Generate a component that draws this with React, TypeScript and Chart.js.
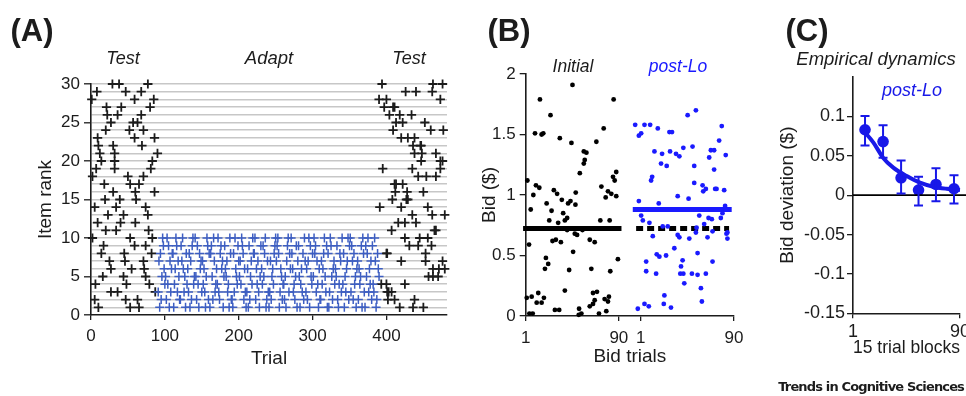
import React, { useEffect, useRef } from "react";
import { Chart, registerables } from "chart.js";

Chart.register(...registerables);

const FONT = "'Liberation Sans', Arial, Helvetica, sans-serif";
const INK = "#1c1c1c";
const BLUE_A = "#3d5ec2";
const BLUE_B = "#1a1aff";
const BLUE_C = "#1818e8";
const GRID_GRAY = "#c7c7c7";
const NONE = "rgba(0,0,0,0)";

// ---------- Panel A: item rank per trial ----------
const testRanks = [30, 29, 28, 27, 26, 25, 24, 23, 22, 21, 20, 19, 18, 17, 16, 15, 14, 13, 12, 11, 10, 9, 8, 7, 6, 5, 4, 3, 2, 1];
const testBlock1Trials = [
  [29, 38, 77], [8, 47, 68], [1, 59, 85], [21, 41, 80], [22, 36, 68],
  [27, 57, 63], [20, 52, 71], [9, 59, 86], [10, 30, 69], [12, 32, 90],
  [14, 32, 83], [7, 32, 81], [2, 50, 71], [18, 53, 65], [30, 60, 86],
  [19, 39, 61], [5, 34, 74], [23, 44, 77], [9, 40, 60], [20, 34, 78],
  [2, 53, 83], [17, 59, 74], [14, 45, 82], [25, 46, 71], [27, 55, 72],
  [16, 44, 74], [6, 48, 79], [27, 36, 87], [5, 47, 63], [10, 53, 65],
];
const testBlock2Trials = [
  [394, 463, 476], [426, 440, 462], [390, 400, 473], [397, 409, 411], [404, 418, 434],
  [413, 422, 452], [409, 460, 477], [420, 429, 438], [436, 446, 447], [438, 448, 467],
  [447, 473, 476], [395, 435, 473], [443, 454, 467], [411, 413, 422], [412, 428, 450],
  [408, 427, 429], [391, 420, 456], [435, 462, 479], [416, 425, 440], [407, 465, 467],
  [425, 445, 456], [431, 443, 461], [400, 401, 453], [420, 453, 476], [463, 471, 479],
  [457, 463, 470], [393, 400, 425], [401, 403, 407], [402, 411, 438], [418, 436, 450],
];
const adaptFirstTrial = 91;
// one digit per adapt trial, "0" = rank 10
const adaptRankSequence = [
  "3718250964", "5204917368", "8146093752", "2970635184", "6381729045",
  "0529418673", "7463150928", "1895207346", "4032896715", "9657341082",
  "2183065497", "5740982631", "3619257408", "8026473159", "6495801273",
  "1372564890", "7908136524", "4251790386", "0863425917", "9514638207",
  "3627019548", "5089374162", "2746805391", "8130952674", "6592148730",
  "4815367029", "0397284516", "7264591083", "1958036472", "9430712865",
];
const trialTicksA = [0, 100, 200, 300, 400];
const rankLabelTicksA = [0, 5, 10, 15, 20, 25, 30];

// ---------- Panel B: bids ----------
const initialBids = [
  [2.6, 1.12], [5.8, 0.88], [4.2, 0.59], [2, 0.15], [6.7, 0.16], [4.5, 0.02], [7.7, 0.02], [8.3, 1.0],
  [10.8, 1.08], [14, 1.06], [9.9, 1.51], [16.2, 1.5], [17.8, 1.51], [14.6, 1.79], [13, 0.19], [11.5, 0.11],
  [16.2, 0.11], [18.4, 0.15], [20.3, 0.48], [19.4, 0.39], [22.5, 0.43], [21, 0.93], [24.7, 1.66], [25.7, 0.87],
  [23.5, 0.79], [26.6, 0.62], [29.8, 0.63], [27.9, 1.04], [31, 1.01], [28.9, 0.05], [33, 0.05], [33.6, 1.47],
  [32, 0.77], [34.6, 0.61], [35.5, 0.96], [36.8, 0.85], [38.4, 0.79], [40.6, 0.81], [38.4, 0.21], [40.6, 0.71],
  [41.5, 0.93], [42.5, 0.38], [43.8, 0.95], [45.7, 1.91], [44.7, 1.43], [46.3, 0.53], [48.8, 1.02], [48.5, 0.92],
  [47.9, 0.68], [50.1, 0.67], [52, 0.06], [54.2, 0.02], [51.7, 0.01], [52.7, 1.18], [56.5, 1.36], [59, 1.35],
  [57.4, 1.29], [56.5, 1.26], [55.2, 0.71], [62.2, 0.63], [66.9, 0.61], [63.7, 0.39], [65.3, 0.19], [69.1, 0.2],
  [62.2, 0.08], [65.3, 0.1], [66.9, 0.13], [68.5, 1.44], [71, 0.02], [72.3, 0.79], [81.2, 0.79], [73.3, 1.07],
  [75.5, 1.55], [77.4, 0.98], [79.6, 1.03], [76.4, 0.14], [78, 0.04], [80.5, 0.16], [79.6, 0.12], [81.8, 0.37],
  [85, 1.79], [84.4, 1.15], [86, 1.12], [87.5, 1.19], [87.5, 0.99], [89.1, 0.47], [82.8, 1.01],
];
const postLoBids = [
  [-4.4, 1.58], [-0.9, 1.49], [1.3, 1.51], [4.5, 1.58], [9.9, 1.58], [-0.9, 0.95], [1.3, 0.83], [2.9, 0.79],
  [-1.9, 0.06], [4.5, 0.1], [8.6, 0.08], [6.1, 0.45], [6.1, 0.37], [9.2, 0.77], [12.4, 0.66], [11.8, 1.15],
  [10.8, 1.12], [14, 1.36], [16.2, 0.51], [15.6, 0.35], [17.2, 1.55], [18.1, 0.93], [20.3, 1.26], [21.3, 1.34],
  [18.7, 0.49], [21.9, 0.74], [23.5, 0.17], [22.9, 0.1], [25.1, 0.5], [25.7, 1.24], [26.7, 0.74], [28.3, 1.52],
  [30.8, 1.52], [29.8, 0.07], [28.9, 1.36], [33, 0.56], [34.6, 1.34], [37.8, 1.32], [36.2, 0.99], [36.2, 0.67],
  [37.8, 0.65], [39.4, 0.41], [38.7, 0.35], [41.6, 0.35], [40.9, 0.46], [42.5, 0.27], [41.6, 1.39], [45.7, 1.66],
  [53.6, 1.7], [46.6, 0.97], [47.3, 0.64], [49.8, 0.35], [50.4, 1.4], [52, 1.1], [52, 1.24], [54.2, 0.73],
  [55.2, 0.52], [53.6, 0.69], [55.2, 0.34], [56.8, 0.83], [58.4, 0.23], [59.3, 0.12], [60, 1.08], [63.1, 1.05],
  [60.6, 1.03], [61.5, 0.76], [63.1, 0.35], [64.7, 0.65], [65.7, 0.81], [66.3, 1.31], [67.9, 1.37], [71, 1.37],
  [68.8, 0.8], [69.5, 0.45], [69.5, 0.7], [71, 1.21], [72, 1.05], [73.3, 1.05], [75.8, 1.45], [77.4, 0.81],
  [79, 0.85], [78.3, 1.57], [80.6, 1.04], [81.5, 0.91], [82.1, 0.88], [82.1, 1.33], [82.8, 0.68], [83.7, 0.64],
  [83.7, 0.69],
];
const postLoOffset = 110;
const initialMeanBid = 0.724;
const postLoMeanBid = 0.88;
const initialMeanSpan = [-1.5, 92.5];
const postLoMeanSpan = [-6.7, 87.8];
const initialRefSpan = [-3.5, 85.3];
const bidTicksB = [0, 0.5, 1, 1.5, 2];
const bidTrialTicksB = [1, 90];

// ---------- Panel C: dynamics ----------
const blockCenters = [11, 26, 41, 55.5, 70, 85];
const blockDeviation = [0.083, 0.068, 0.022, 0.0064, 0.0136, 0.0081];
const blockErrLow = [0.063, 0.0476, 0.0022, -0.0131, -0.0076, -0.0106];
const blockErrHigh = [0.1005, 0.0888, 0.0441, 0.0234, 0.034, 0.0254];
const fitX = [10, 18, 26, 34.5, 45.7, 56.7, 67.8, 79, 90];
const fitY = [0.0814, 0.0667, 0.0476, 0.0349, 0.0242, 0.0158, 0.0107, 0.0081, 0.0066];
const devTicksC = [-0.15, -0.1, -0.05, 0, 0.05, 0.1];
const blockTicksC = [1, 90];

const font = (size: number, style = "normal", weight = "normal") => ({ family: FONT, size, style, weight });

function base(padding: any) {
  return {
    responsive: false,
    maintainAspectRatio: false,
    animation: false as const,
    events: [] as any[],
    layout: { padding },
    plugins: { legend: { display: false }, tooltip: { enabled: false }, title: { display: false } },
  };
}

const errorBarPlugin = {
  id: "errorBarsC",
  afterDatasetsDraw(chart: any) {
    const { ctx, scales } = chart;
    const x = scales.x;
    const y = scales.y;
    ctx.save();
    ctx.strokeStyle = BLUE_C;
    ctx.lineWidth = 2;
    blockCenters.forEach((bx, i) => {
      const px = x.getPixelForValue(bx);
      const top = y.getPixelForValue(blockErrHigh[i]);
      const bot = y.getPixelForValue(blockErrLow[i]);
      ctx.beginPath();
      ctx.moveTo(px, top);
      ctx.lineTo(px, bot);
      ctx.moveTo(px - 4.5, top);
      ctx.lineTo(px + 4.5, top);
      ctx.moveTo(px - 4.5, bot);
      ctx.lineTo(px + 4.5, bot);
      ctx.stroke();
    });
    ctx.restore();
  },
};

function Txt(props: { x: number; y: number; text: string; size: number; color?: string; italic?: boolean; bold?: boolean; family?: string; spacing?: number; align?: "center" | "right" }) {
  const { x, y, text, size, color = INK, italic, bold, family = FONT, spacing = 0, align = "center" } = props;
  return (
    <div
      style={{
        position: "absolute",
        left: x,
        top: y,
        transform: align === "center" ? "translate(-50%,-50%)" : "translate(-100%,-50%)",
        fontFamily: family,
        fontSize: size,
        fontStyle: italic ? "italic" : "normal",
        fontWeight: bold ? "bold" : "normal",
        color,
        lineHeight: 1,
        whiteSpace: "nowrap",
        letterSpacing: spacing,
      }}
    >
      {text}
    </div>
  );
}

export default function App() {
  const refA = useRef<HTMLCanvasElement>(null);
  const refB = useRef<HTMLCanvasElement>(null);
  const refC = useRef<HTMLCanvasElement>(null);

  useEffect(() => {
    const charts: Chart[] = [];

    // ----- Panel A -----
    const testPoints: { x: number; y: number }[] = [];
    testRanks.forEach((r, i) => {
      testBlock1Trials[i].forEach((t) => testPoints.push({ x: t, y: r }));
      testBlock2Trials[i].forEach((t) => testPoints.push({ x: t, y: r }));
    });
    const adaptPoints = adaptRankSequence
      .join("")
      .split("")
      .map((d, i) => ({ x: adaptFirstTrial + i, y: d === "0" ? 10 : Number(d) }));
    const rankGrid = Array.from({ length: 31 }, (_, i) => i);

    charts.push(
      new Chart(refA.current!, {
        type: "scatter",
        data: {
          datasets: [
            {
              data: adaptPoints,
              pointStyle: "cross",
              pointRadius: 4.5,
              pointBorderColor: BLUE_A,
              pointBackgroundColor: BLUE_A,
              pointBorderWidth: 1.5,
              clip: false,
            } as any,
            {
              data: testPoints,
              pointStyle: "cross",
              pointRadius: 4.6,
              pointBorderColor: INK,
              pointBackgroundColor: INK,
              pointBorderWidth: 1.8,
              clip: false,
            } as any,
          ],
        },
        options: {
          ...base({ left: 0, right: 23, top: 84, bottom: 0 }),
          scales: {
            x: {
              type: "linear",
              min: 0,
              max: 482,
              afterBuildTicks: (s: any) => {
                s.ticks = trialTicksA.map((v) => ({ value: v }));
              },
              afterFit: (s: any) => {
                s.height = 81;
              },
              grid: { drawOnChartArea: false, drawTicks: true, tickLength: 5, color: INK, lineWidth: 1.3 },
              border: { display: true, color: INK, width: 1.6 },
              ticks: { color: INK, font: font(17), padding: 6, maxRotation: 0, autoSkip: false },
              title: { display: true, text: "Trial", color: INK, font: font(19), padding: { top: 0, bottom: 26 } },
            },
            y: {
              type: "linear",
              min: 0,
              max: 30,
              afterBuildTicks: (s: any) => {
                s.ticks = rankGrid.map((v) => ({ value: v }));
              },
              afterFit: (s: any) => {
                s.width = 91;
              },
              grid: {
                drawOnChartArea: true,
                drawTicks: true,
                tickLength: 7,
                lineWidth: 1.6,
                tickWidth: 1.3,
                color: (c: any) => (c.tick && c.tick.value > 0 ? GRID_GRAY : NONE),
                tickColor: (c: any) => (c.tick && rankLabelTicksA.includes(c.tick.value) ? INK : NONE),
              },
              border: { display: true, color: INK, width: 1.6 },
              ticks: {
                color: INK,
                font: font(17),
                padding: 4,
                autoSkip: false,
                callback: (v: any) => (rankLabelTicksA.includes(Number(v)) ? String(v) : ""),
              },
              title: { display: true, text: "Item rank", color: INK, font: font(19), padding: { top: 34.6, bottom: 0 } },
            },
          },
        } as any,
      })
    );

    // ----- Panel B -----
    const line = (x0: number, x1: number, yv: number, color: string, dash: number[] = []) => ({
      type: "line",
      data: [
        { x: x0, y: yv },
        { x: x1, y: yv },
      ],
      showLine: true,
      borderColor: color,
      borderWidth: 5,
      borderDash: dash,
      borderCapStyle: "butt",
      pointRadius: 0,
      clip: false,
    });

    charts.push(
      new Chart(refB.current!, {
        type: "scatter",
        data: {
          datasets: [
            {
              data: initialBids.map(([x, y]) => ({ x, y })),
              pointRadius: 2.4,
              pointBackgroundColor: "#000",
              pointBorderWidth: 0,
              clip: false,
            } as any,
            {
              data: postLoBids.map(([x, y]) => ({ x: x + postLoOffset, y })),
              pointRadius: 2.4,
              pointBackgroundColor: BLUE_B,
              pointBorderWidth: 0,
              clip: false,
            } as any,
            line(initialMeanSpan[0], initialMeanSpan[1], initialMeanBid, "#000") as any,
            line(postLoMeanSpan[0] + postLoOffset, postLoMeanSpan[1] + postLoOffset, postLoMeanBid, BLUE_B) as any,
            line(initialRefSpan[0] + postLoOffset, initialRefSpan[1] + postLoOffset, initialMeanBid, "#000", [7, 4]) as any,
          ],
        },
        options: {
          ...base({ left: 0, right: 36, top: 74, bottom: 0 }),
          scales: {
            x: {
              type: "linear",
              min: 1,
              max: 200,
              afterBuildTicks: (s: any) => {
                s.ticks = [...bidTrialTicksB, ...bidTrialTicksB.map((v) => v + postLoOffset)].map((v) => ({ value: v }));
              },
              afterFit: (s: any) => {
                s.height = 80;
              },
              grid: { drawOnChartArea: false, drawTicks: true, tickLength: 5, color: INK, lineWidth: 1.3 },
              border: { display: true, color: INK, width: 1.6 },
              ticks: {
                color: INK,
                font: font(17),
                padding: 7,
                maxRotation: 0,
                autoSkip: false,
                callback: (v: any) => String(Number(v) > postLoOffset ? Number(v) - postLoOffset : v),
              },
              title: { display: true, text: "Bid trials", color: INK, font: font(19), padding: { top: 0, bottom: 27.5 } },
            },
            y: {
              type: "linear",
              min: 0,
              max: 2,
              afterBuildTicks: (s: any) => {
                s.ticks = bidTicksB.map((v) => ({ value: v }));
              },
              afterFit: (s: any) => {
                s.width = 55.7;
              },
              grid: { drawOnChartArea: false, drawTicks: true, tickLength: 6, color: INK, lineWidth: 1.3 },
              border: { display: true, color: INK, width: 1.6 },
              ticks: { color: INK, font: font(17), padding: 4, autoSkip: false, callback: (v: any) => String(Number(v)) },
              title: { display: true, text: "Bid ($)", color: INK, font: font(19), padding: { top: 8.6, bottom: 0 } },
            },
          },
        } as any,
      })
    );

    // ----- Panel C -----
    charts.push(
      new Chart(refC.current!, {
        type: "scatter",
        data: {
          datasets: [
            {
              type: "line",
              data: [
                { x: 1, y: 0 },
                { x: 120, y: 0 },
              ],
              showLine: true,
              borderColor: "#000",
              borderWidth: 1.6,
              pointRadius: 0,
              clip: false,
            } as any,
            {
              type: "line",
              data: fitX.map((x, i) => ({ x, y: fitY[i] })),
              showLine: true,
              borderColor: BLUE_C,
              borderWidth: 4,
              cubicInterpolationMode: "monotone",
              pointRadius: 0,
              clip: false,
            } as any,
            {
              data: blockCenters.map((x, i) => ({ x, y: blockDeviation[i] })),
              pointRadius: 5.8,
              pointBackgroundColor: BLUE_C,
              pointBorderWidth: 0,
              clip: false,
            } as any,
          ],
        },
        options: {
          ...base({ left: 0, right: 26, top: 77, bottom: 0 }),
          scales: {
            x: {
              type: "linear",
              min: 1,
              max: 90,
              afterBuildTicks: (s: any) => {
                s.ticks = blockTicksC.map((v) => ({ value: v }));
              },
              afterFit: (s: any) => {
                s.height = 82.7;
              },
              grid: { drawOnChartArea: false, drawTicks: true, tickLength: 5, color: INK, lineWidth: 1.3 },
              border: { display: true, color: INK, width: 1.6 },
              ticks: { color: INK, font: font(18), padding: 3.4, maxRotation: 0, autoSkip: false },
              title: { display: true, text: "15 trial blocks", color: INK, font: font(19), padding: { top: 0, bottom: 36.6 } },
            },
            y: {
              type: "linear",
              min: -0.15,
              max: 0.15,
              afterBuildTicks: (s: any) => {
                s.ticks = devTicksC.map((v) => ({ value: v }));
              },
              afterFit: (s: any) => {
                s.width = 83;
              },
              grid: { drawOnChartArea: false, drawTicks: true, tickLength: 6, color: INK, lineWidth: 1.3 },
              border: { display: true, color: INK, width: 1.6 },
              ticks: { color: INK, font: font(18), padding: 2, autoSkip: false, callback: (v: any) => String(v) },
              title: { display: true, text: "Bid deviation ($)", color: INK, font: font(19), padding: { top: 6.6, bottom: 0 } },
            },
          },
        } as any,
        plugins: [errorBarPlugin],
      })
    );

    return () => charts.forEach((c) => c.destroy());
  }, []);

  return (
    <div
      style={{
        position: "fixed",
        left: 0,
        top: 0,
        width: 966,
        height: 396,
        overflow: "hidden",
        background: "#fff",
      }}
    >
      <canvas ref={refA} width={470} height={396} style={{ position: "absolute", left: 0, top: 0, width: 470, height: 396 }} />
      <canvas ref={refB} width={300} height={396} style={{ position: "absolute", left: 470, top: 0, width: 300, height: 396 }} />
      <canvas ref={refC} width={216} height={396} style={{ position: "absolute", left: 770, top: 0, width: 216, height: 396 }} />

      <Txt x={32} y={30} text="(A)" size={31} bold />
      <Txt x={509} y={30} text="(B)" size={31} bold />
      <Txt x={807} y={30} text="(C)" size={31} bold />

      <Txt x={123} y={58} text="Test" size={18} italic />
      <Txt x={269} y={58} text="Adapt" size={18.5} italic />
      <Txt x={409} y={58} text="Test" size={18} italic />

      <Txt x={573} y={67} text="Initial" size={17.5} italic />
      <Txt x={678} y={67} text="post-Lo" size={17.5} italic color={BLUE_B} />

      <Txt x={876} y={59} text="Empirical dynamics" size={18.5} italic />
      <Txt x={912} y={90} text="post-Lo" size={18} italic color={BLUE_C} />

      <Txt x={964} y={386} text="Trends in Cognitive Sciences" size={13} bold family="'DejaVu Sans', sans-serif" spacing={-0.85} align="right" />
    </div>
  );
}
